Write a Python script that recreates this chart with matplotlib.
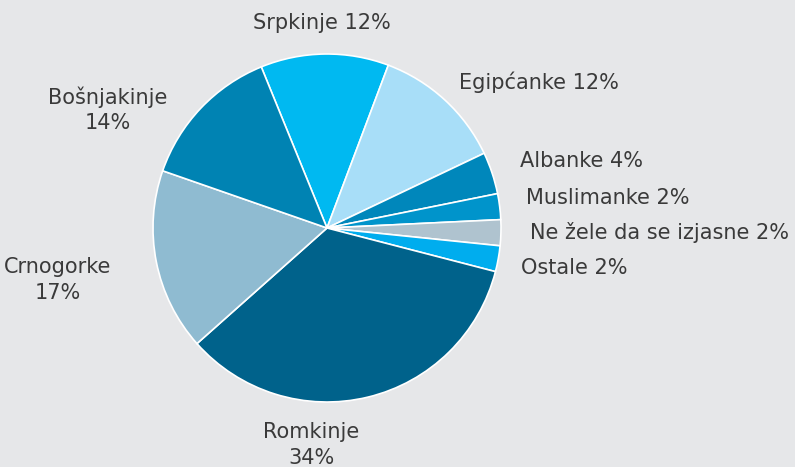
import matplotlib
matplotlib.use('Agg')
import matplotlib.pyplot as plt

names = ['Srpkinje', 'Egipćanke', 'Albanke', 'Muslimanke', 'Ne žele da se izjasne',
         'Ostale', 'Romkinje', 'Crnogorke', 'Bošnjakinje']
shares = [11.9, 12.2, 3.9, 2.4, 2.4, 2.4, 34.4, 16.9, 13.5]
pct_labels = ['12%', '12%', '4%', '2%', '2%', '2%', '34%', '17%', '14%']
colors = ['#00b9f1', '#a8def8', '#0087bb', '#0094cb', '#afc3cf',
          '#00adee', '#00628b', '#8fbbd1', '#0083b3']

bg = '#e6e7e9'
W, H = 795, 467
cx, cy, R = 327, 228, 174

plt.rcParams['font.family'] = ['DejaVu Sans']

fig = plt.figure(figsize=(W / 100, H / 100), dpi=100, facecolor=bg)
ax = fig.add_axes([0, 0, 1, 1])
ax.set_facecolor(bg)

ax.pie(shares, colors=colors, startangle=112.2, counterclock=False,
       radius=1, center=(0, 0),
       wedgeprops=dict(edgecolor='white', linewidth=1.2))

ax.set_xlim(-cx / R, (W - cx) / R)
ax.set_ylim(-(H - cy) / R, cy / R)
ax.set_aspect('equal')
ax.axis('off')


def px(x, y):
    return (x - cx) / R, (cy - y) / R


# label anchors (pixel positions in the reference), alignment
label_pos = [
    ((322, 23), 'center', False),
    ((459, 82), 'left', False),
    ((520, 161), 'left', False),
    ((526, 198), 'left', False),
    ((530, 233), 'left', False),
    ((521, 268), 'left', False),
    ((311, 445), 'center', True),
    ((58, 280), 'center', True),
    ((108, 110), 'center', True),
]

for name, pct, (pos, ha, two_lines) in zip(names, pct_labels, label_pos):
    txt = name + ('\n' if two_lines else ' ') + pct
    ax.text(*px(*pos), txt, ha=ha, va='center', fontsize=15,
            color='#3a3a3a', linespacing=1.32)

fig.savefig('out.png', dpi=100, facecolor=bg)
